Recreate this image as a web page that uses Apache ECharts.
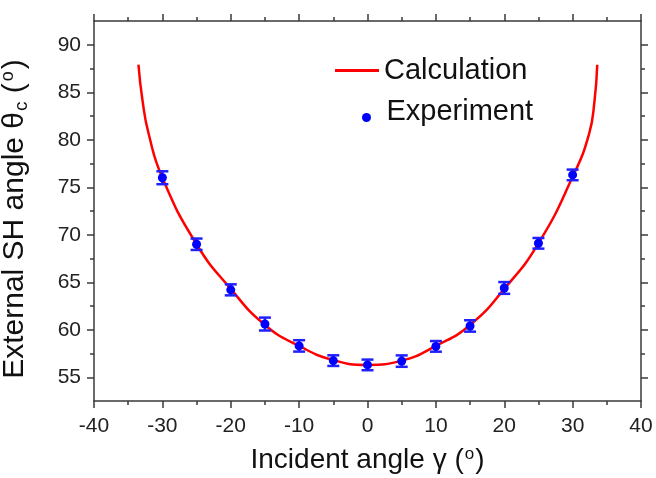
<!DOCTYPE html>
<html>
<head>
<meta charset="utf-8">
<script src="https://cdn.jsdelivr.net/npm/echarts@6/dist/echarts.min.js"></script>
<style>
html, body { margin: 0; padding: 0; background: #fff; }
#main { width: 656px; height: 478px; }
</style>
</head>
<body>
<div id="main"></div>
<script>
// calculated curve
var curveX = [-33.5, -32.9, -32.0, -30, -25, -20, -15, -10, -5, 0, 5, 10, 15, 20, 25, 30, 32.4, 33.2, 33.6];
var curveY = [87.9, 84.1, 80.6, 76.0, 69.0, 64.3, 60.5, 58.3, 56.8, 56.3, 56.75, 58.3, 60.5, 64.3, 69.1, 76.1, 80.6, 84.1, 87.9];

// experiment points and error half-widths
var expX = [-30, -25, -20, -15, -10, -5, 0, 5, 10, 15, 20, 25, 30];
var expY = [76.0, 69.0, 64.2, 60.6, 58.3, 56.75, 56.3, 56.7, 58.25, 60.4, 64.4, 69.1, 76.3];
var expErr = [0.68, 0.6, 0.58, 0.68, 0.6, 0.56, 0.56, 0.6, 0.56, 0.6, 0.62, 0.56, 0.56];

// axis ticks
var yMajor = [55, 60, 65, 70, 75, 80, 85, 90];
var yMinor = [57.5, 62.5, 67.5, 72.5, 77.5, 82.5, 87.5];

var dom = document.getElementById('main');
var myChart = echarts.init(dom);

var font = 'Liberation Sans, Arial, sans-serif';
var axisColor = '#3a3a3a';
var errColor = '#2020ff';

var curveData = curveX.map(function (x, i) { return [x, curveY[i]]; });
var expData = expX.map(function (x, i) { return [x, expY[i]]; });
var errData = expX.map(function (x, i) { return [x, expY[i] - expErr[i], expY[i] + expErr[i]]; });

function xAxisOf(pos, showLabel) {
  return {
    type: 'value',
    position: pos,
    min: -40,
    max: 40,
    interval: 10,
    axisLine: { show: true, onZero: false, lineStyle: { color: axisColor, width: 1.5 } },
    axisTick: { show: true, length: 7, lineStyle: { color: axisColor, width: 1.5 } },
    minorTick: { show: true, splitNumber: 2, length: 4, lineStyle: { color: axisColor, width: 1.5 } },
    axisLabel: { show: showLabel, margin: 15, color: '#222', fontSize: 21, fontFamily: font },
    splitLine: { show: false }
  };
}

function yAxisOf(pos, ticks, len, showLine, showLabel) {
  return {
    type: 'value',
    position: pos,
    min: 52.5,
    max: 92.5,
    axisLine: { show: showLine, onZero: false, lineStyle: { color: axisColor, width: 1.5 } },
    axisTick: { show: true, length: len, customValues: ticks, lineStyle: { color: axisColor, width: 1.5 } },
    axisLabel: { show: showLabel, customValues: yMajor, margin: 13, color: '#222', fontSize: 21, fontFamily: font },
    splitLine: { show: false }
  };
}

var xBottom = xAxisOf('bottom', true);
xBottom.name = 'Incident angle γ ({sup|o})';
xBottom.nameLocation = 'middle';
xBottom.nameGap = 45;
xBottom.nameTextStyle = {
  color: '#111', fontSize: 28, fontFamily: font,
  rich: { sup: { fontSize: 17, fontFamily: font, color: '#111', padding: [0, 1, 12, 1] } }
};

var yLeft = yAxisOf('left', yMajor, 7, true, true);
yLeft.name = 'External SH angle θ{sub|c} ({sup|o})';
yLeft.nameLocation = 'middle';
yLeft.nameGap = 63;
yLeft.nameTextStyle = {
  color: '#111', fontSize: 30, fontFamily: font, padding: [0, 16, 0, 0],
  rich: {
    sub: { fontSize: 19, fontFamily: font, color: '#111', padding: [13, 0, 0, 1] },
    sup: { fontSize: 18, fontFamily: font, color: '#111', padding: [0, 2, 13, 2] }
  }
};

option = {
  animation: false,
  backgroundColor: '#fff',
  grid: { left: 94, right: 15, top: 21, bottom: 77, outerBoundsMode: 'none', containLabel: false },
  legend: [
    {
      data: ['Calculation'],
      left: 330,
      top: 51,
      icon: 'rect',
      itemWidth: 44,
      itemHeight: 3,
      textStyle: { color: '#111', fontSize: 29, fontFamily: font }
    },
    {
      data: ['Experiment'],
      left: 357,
      top: 92,
      icon: 'circle',
      itemWidth: 24,
      itemHeight: 9,
      formatter: function (name) { return '{t|' + name + '}'; },
      textStyle: {
        color: '#111', fontSize: 29, fontFamily: font,
        rich: { t: { color: '#111', fontSize: 29, fontFamily: font, padding: [0, 0, 12, 3] } }
      }
    }
  ],
  xAxis: [xBottom, xAxisOf('top', false)],
  yAxis: [
    yLeft,
    yAxisOf('left', yMinor, 4, false, false),
    yAxisOf('right', yMajor, 7, true, false),
    yAxisOf('right', yMinor, 4, false, false)
  ],
  series: [
    {
      name: 'Calculation',
      type: 'line',
      data: curveData,
      smooth: true,
      showSymbol: false,
      symbol: 'none',
      lineStyle: { color: '#ff0000', width: 2.5 },
      itemStyle: { color: '#ff0000' },
      z: 2
    },
    {
      name: 'errorbar',
      type: 'custom',
      data: errData,
      encode: { x: 0, y: [1, 2] },
      renderItem: function (params, api) {
        var x = api.value(0);
        var lo = api.coord([x, api.value(1)]);
        var hi = api.coord([x, api.value(2)]);
        var hw = 6;
        var st = { stroke: errColor, lineWidth: 2.5 };
        return {
          type: 'group',
          children: [
            { type: 'line', shape: { x1: lo[0], y1: lo[1], x2: hi[0], y2: hi[1] }, style: st },
            { type: 'line', shape: { x1: lo[0] - hw, y1: lo[1], x2: lo[0] + hw, y2: lo[1] }, style: st },
            { type: 'line', shape: { x1: hi[0] - hw, y1: hi[1], x2: hi[0] + hw, y2: hi[1] }, style: st }
          ]
        };
      },
      z: 3
    },
    {
      name: 'Experiment',
      type: 'scatter',
      data: expData,
      symbol: 'circle',
      symbolSize: 9,
      itemStyle: { color: '#0000ff', opacity: 1 },
      z: 4
    }
  ]
};

if (option && typeof option === 'object') {
  myChart.setOption(option, true);
}
</script>
</body>
</html>
